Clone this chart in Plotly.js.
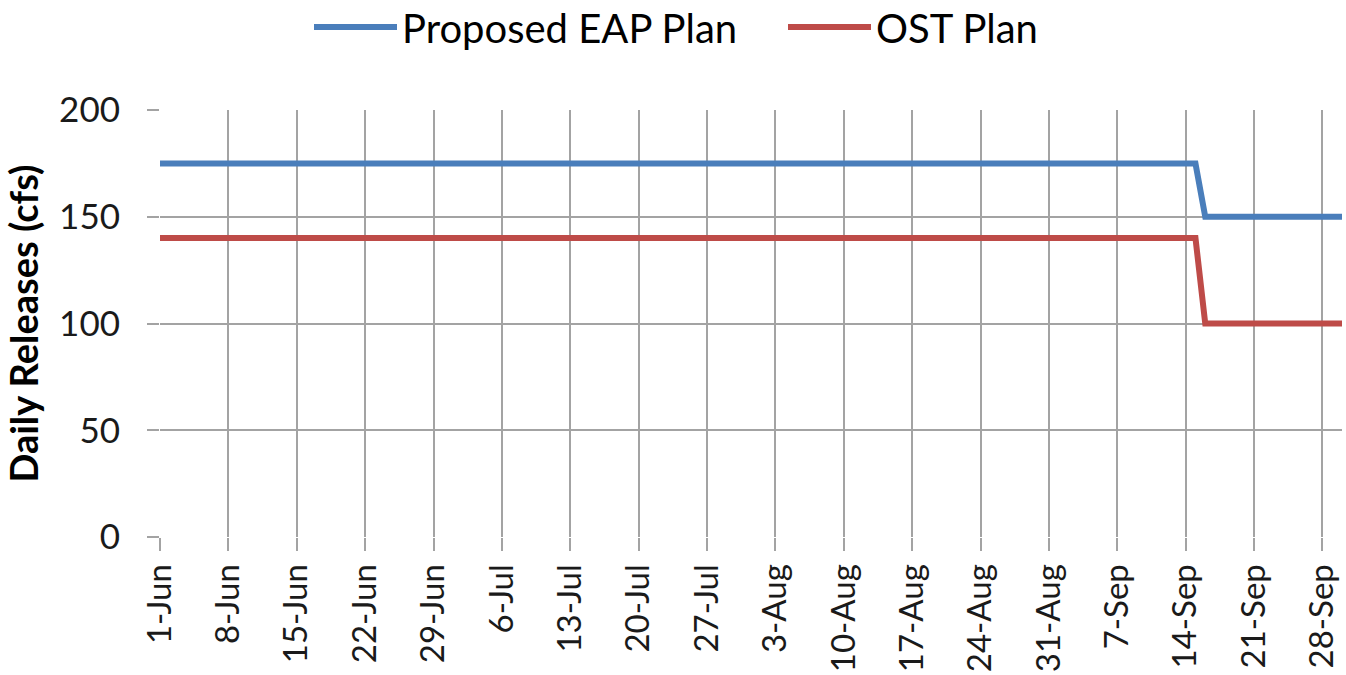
<!DOCTYPE html>
<html>
<head>
<meta charset="utf-8">
<script src="https://cdn.plot.ly/plotly-3.0.1.min.js"></script>
<style>html,body{margin:0;padding:0;background:#fff;}#chart{width:1346px;height:675px;}</style>
</head>
<body>
<div id="chart"></div>
<script>
// Breakpoint dates of the daily release schedules (values constant between them)
const dates = ['2014-06-01', '2014-09-15', '2014-09-16', '2014-09-30'];
const eapPlan = [175, 175, 150, 150];
const ostPlan = [140, 140, 100, 100];
const seriesNames = ['Proposed EAP Plan', 'OST Plan'];
const yTicks = [0, 50, 100, 150, 200];

const font = 'Lato, "Open Sans", sans-serif';
const gridColor = '#a3a3a3';

const traces = [
  {x: dates, y: eapPlan, name: seriesNames[0], mode: 'lines', line: {color: '#4a7ebb', width: 6}},
  {x: dates, y: ostPlan, name: seriesNames[1], mode: 'lines', line: {color: '#be4b48', width: 6}}
];

const layout = {
  width: 1346, height: 675,
  margin: {l: 160, r: 4, t: 110, b: 138, pad: 0},
  paper_bgcolor: '#fff', plot_bgcolor: '#fff',
  font: {family: font, color: '#1a1a1a', size: 30},
  showlegend: true,
  legend: {orientation: 'h', xref: 'container', yref: 'container', x: 309/1346, xanchor: 'left', y: 1 - 27/675, yanchor: 'middle',
           font: {family: font, size: 40, color: '#000'}, itemwidth: 83, entrywidth: 376, entrywidthmode: 'pixels',
           traceorder: 'normal'},
  xaxis: {
    type: 'date', range: ['2014-06-01', '2014-09-30'],
    tick0: '2014-06-01', dtick: 7 * 86400000, tickformat: '%-d-%b',
    tickangle: -90, ticks: 'outside', ticklen: 13, tickwidth: 2, tickcolor: gridColor,
    showgrid: true, gridcolor: gridColor, gridwidth: 2,
    showline: false, zeroline: false,
    ticklabelstandoff: 0,
    tickfont: {family: font, size: 33, color: '#1a1a1a'}
  },
  yaxis: {
    range: [0, 200], tickvals: yTicks, ticks: 'outside', ticklen: 12, tickwidth: 2, tickcolor: gridColor,
    showgrid: true, gridcolor: gridColor, gridwidth: 2, zeroline: false, showline: false,
    ticklabelstandoff: 20,
    tickfont: {family: font, size: 35, color: '#1a1a1a'},
    title: {text: '<b>Daily Releases (cfs)</b>', font: {family: font, size: 38, color: '#000'}, standoff: 16}
  }
};

Plotly.newPlot('chart', traces, layout, {displayModeBar: false, staticPlot: true});
</script>
</body>
</html>
